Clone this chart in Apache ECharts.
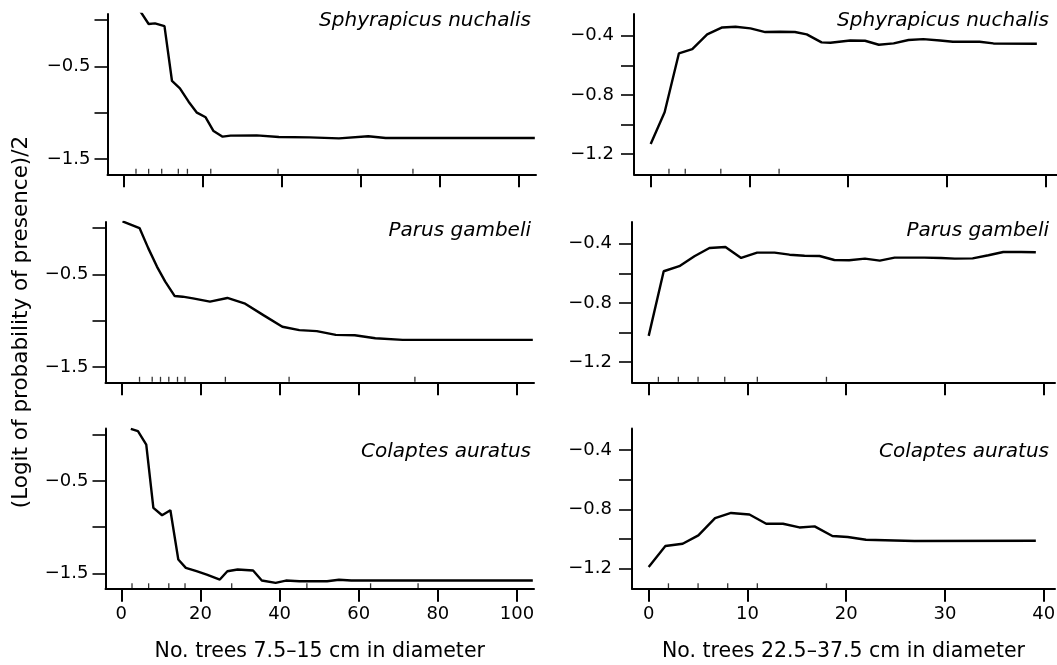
<!DOCTYPE html>
<html>
<head>
<meta charset="utf-8">
<script src="https://cdn.jsdelivr.net/npm/echarts@6/dist/echarts.min.js"></script>
<style>
html,body{margin:0;padding:0;background:#fff;}
#c{width:1057px;height:665px;}
</style>
</head>
<body>
<div id="c"></div>
<script>
// ---- Data ----
const speciesNames = ['Sphyrapicus nuchalis', 'Parus gambeli', 'Colaptes auratus'];
const xTitleSmall = 'No. trees 7.5\u201315 cm in diameter';
const xTitleLarge = 'No. trees 22.5\u201337.5 cm in diameter';
const yTitle = '(Logit of probability of presence)/2';

const smallTicks = [0, 20, 40, 60, 80, 100];
const largeTicks = [0, 10, 20, 30, 40];
const leftYTicks = [0, -0.5, -1.0, -1.5];
const leftYLabels = [-0.5, -1.5];
const rightYTicks = [-0.4, -0.6, -0.8, -1.0, -1.2];
const rightYLabels = [-0.4, -0.8, -1.2];

// Sphyrapicus nuchalis vs small trees
const sphSmallX = [3.9, 6.4, 8.0, 10.4, 12.3, 14.3, 16.5, 18.6, 20.8, 22.8, 25.1, 27.1, 33.7, 39.3, 47.1, 54.5, 61.9, 66.3, 104];
const sphSmallY = [0.12, -0.043, -0.036, -0.065, -0.658, -0.737, -0.881, -1.0, -1.05, -1.198, -1.259, -1.248, -1.245, -1.263, -1.266, -1.277, -1.255, -1.273, -1.273];
// Parus gambeli vs small trees
const parSmallX = [0.3, 4.6, 6.8, 9.0, 11.1, 13.5, 15.5, 18.1, 22.4, 26.8, 31.1, 35.9, 40.7, 45.0, 49.4, 54.2, 59.0, 64.2, 71.1, 104];
const parSmallY = [0.072, 0, -0.217, -0.416, -0.578, -0.734, -0.741, -0.759, -0.795, -0.755, -0.813, -0.94, -1.066, -1.102, -1.113, -1.153, -1.157, -1.189, -1.207, -1.207];
// Colaptes auratus vs small trees
const colSmallX = [2.4, 4.2, 6.3, 8.1, 10.3, 12.4, 14.4, 16.3, 19.0, 21.6, 24.9, 26.8, 29.4, 33.3, 35.5, 39.0, 41.6, 45.0, 52.0, 55.0, 58.1, 104];
const colSmallY = [0.061, 0.036, -0.108, -0.791, -0.871, -0.817, -1.349, -1.439, -1.475, -1.511, -1.565, -1.475, -1.457, -1.468, -1.576, -1.601, -1.576, -1.583, -1.583, -1.568, -1.576, -1.576];

// Sphyrapicus nuchalis vs large trees
const sphLargeX = [0, 1.41, 2.86, 4.21, 5.72, 7.24, 8.59, 10.1, 11.6, 13.1, 14.6, 15.8, 17.3, 18.2, 20.2, 21.7, 23.1, 24.6, 26.1, 27.6, 29.3, 30.6, 33.3, 34.7, 39.1];
const sphLargeY = [-1.132, -0.918, -0.519, -0.49, -0.391, -0.344, -0.339, -0.35, -0.375, -0.373, -0.375, -0.391, -0.445, -0.447, -0.432, -0.434, -0.461, -0.452, -0.429, -0.423, -0.432, -0.441, -0.441, -0.452, -0.454];
// Parus gambeli vs large trees
const parLargeX = [0, 1.52, 3.1, 4.63, 6.15, 7.77, 9.36, 10.98, 12.74, 14.26, 15.78, 17.3, 18.8, 20.3, 21.9, 23.4, 24.9, 27.9, 29.6, 31.0, 32.8, 34.4, 35.9, 37.7, 39.2];
const parLargeY = [-1.023, -0.586, -0.552, -0.485, -0.429, -0.422, -0.496, -0.46, -0.46, -0.474, -0.481, -0.483, -0.51, -0.512, -0.501, -0.514, -0.494, -0.494, -0.496, -0.501, -0.499, -0.478, -0.456, -0.456, -0.458];
// Colaptes auratus vs large trees
const colLargeX = [0, 1.69, 3.44, 5.03, 6.72, 8.34, 10.2, 11.9, 13.6, 15.26, 16.8, 18.6, 20.15, 22.0, 24.9, 26.9, 39.2];
const colLargeY = [-1.189, -1.048, -1.032, -0.976, -0.859, -0.824, -0.835, -0.897, -0.897, -0.922, -0.915, -0.98, -0.987, -1.005, -1.01, -1.014, -1.012];

// Rug marks (data deciles) along the x axes
const sphSmallRug = [3.2, 6.4, 9.7, 13.9, 16.2, 22.1, 39.1, 59.3, 73.2];
const parSmallRug = [4.6, 7.8, 9.9, 12.0, 14.2, 16.1, 26.3, 42.4, 74.2];
const colSmallRug = [2.7, 6.9, 12.0, 16.1, 27.9, 46.9, 63.0, 75.0];
const sphLargeRug = [1.85, 3.5, 7.1, 13.0];
const parLargeRug = [0.98, 3.0, 5.0, 7.7, 11.0, 18.0];
const colLargeRug = [2.0, 5.0, 8.0, 11.0, 18.0];

// ---- Layout ----
const FONT = "'DejaVu Sans', 'Liberation Sans', Arial, sans-serif";
const leftRange = { min: -4, max: 104.3 };
const rightRange = { min: -1.69, max: 41.14 };
const leftYRange = { min: -1.665, max: 0.065 };
const rightYRange = { min: -1.337, max: -0.253 };
const rowTops = [14, 222, 428.5];
const rowShift = [0, -2, -2];
const H = 160.3;

const panels = [
  { col: 0, row: 0, x: sphSmallX, y: sphSmallY, rug: sphSmallRug },
  { col: 0, row: 1, x: parSmallX, y: parSmallY, rug: parSmallRug },
  { col: 0, row: 2, x: colSmallX, y: colSmallY, rug: colSmallRug },
  { col: 1, row: 0, x: sphLargeX, y: sphLargeY, rug: sphLargeRug },
  { col: 1, row: 1, x: parLargeX, y: parLargeY, rug: parLargeRug },
  { col: 1, row: 2, x: colLargeX, y: colLargeY, rug: colLargeRug }
];

const fmt = v => (v < 0 ? '\u2212' : '') + Math.abs(v).toFixed(1);

const grids = [], xAxes = [], yAxes = [], series = [], graphics = [];
panels.forEach((p, i) => {
  const left = p.col === 0 ? 107.5 : 634;
  const width = p.col === 0 ? 428.5 : 423;
  grids.push({ left: left + rowShift[p.row], top: rowTops[p.row], width: width, height: H, outerBoundsMode: 'none', containLabel: false });
  const xr = p.col === 0 ? leftRange : rightRange;
  const yr = p.col === 0 ? leftYRange : rightYRange;
  const ticks = p.col === 0 ? smallTicks : largeTicks;
  const isBottom = p.row === 2;
  xAxes.push({
    type: 'value', gridIndex: i, min: xr.min, max: xr.max,
    axisLine: { onZero: false, lineStyle: { color: '#000', width: 2 } },
    axisTick: { show: true, customValues: ticks, length: 13, lineStyle: { color: '#000', width: 2 } },
    axisLabel: { show: isBottom, customValues: ticks, margin: 17, color: '#000', fontSize: 18, fontFamily: FONT },
    splitLine: { show: false },
    name: isBottom ? (p.col === 0 ? xTitleSmall : xTitleLarge) : '',
    nameLocation: 'middle', nameGap: 52,
    nameTextStyle: { color: '#000', fontSize: 20.5, fontFamily: FONT }
  });
  yAxes.push({
    type: 'value', gridIndex: i, min: yr.min, max: yr.max,
    axisLine: { onZero: false, lineStyle: { color: '#000', width: 2 } },
    axisTick: { show: true, customValues: p.col === 0 ? leftYTicks : rightYTicks, length: 13, lineStyle: { color: '#000', width: 1.6 } },
    axisLabel: { show: true, customValues: p.col === 0 ? leftYLabels : rightYLabels, formatter: fmt, margin: p.col === 0 ? 17 : 20, color: '#000', fontSize: 18, fontFamily: FONT },
    splitLine: { show: false }
  });
  series.push({
    type: 'line', xAxisIndex: i, yAxisIndex: i,
    data: p.x.map((xv, k) => [xv, p.y[k]]),
    showSymbol: false, symbol: 'none', clip: true,
    lineStyle: { color: '#000', width: 2.4 },
    silent: true, animation: false
  });
  series.push({
    type: 'scatter', xAxisIndex: i, yAxisIndex: i,
    data: p.rug.map(xv => [xv, yr.min]),
    symbol: 'rect', symbolSize: [1.3, 5], symbolOffset: [0, -3],
    itemStyle: { color: '#000' }, silent: true, animation: false, clip: false
  });
});

const titleRight = [531, 1049];
const titleY = [21, 231, 452];
panels.forEach(p => {
  graphics.push({
    type: 'text', x: titleRight[p.col], y: titleY[p.row],
    style: { text: speciesNames[p.row], align: 'right', verticalAlign: 'middle', fill: '#000',
             font: 'italic 20px ' + FONT }
  });
});
graphics.push({
  type: 'text', x: 21, y: 322, rotation: Math.PI / 2,
  style: { text: yTitle, align: 'center', verticalAlign: 'middle', fill: '#000', font: '21.5px ' + FONT }
});

const chart = echarts.init(document.getElementById('c'), null, { renderer: 'canvas' });
chart.setOption({
  animation: false,
  backgroundColor: '#fff',
  grid: grids, xAxis: xAxes, yAxis: yAxes, series: series, graphic: graphics
});
</script>
</body>
</html>
